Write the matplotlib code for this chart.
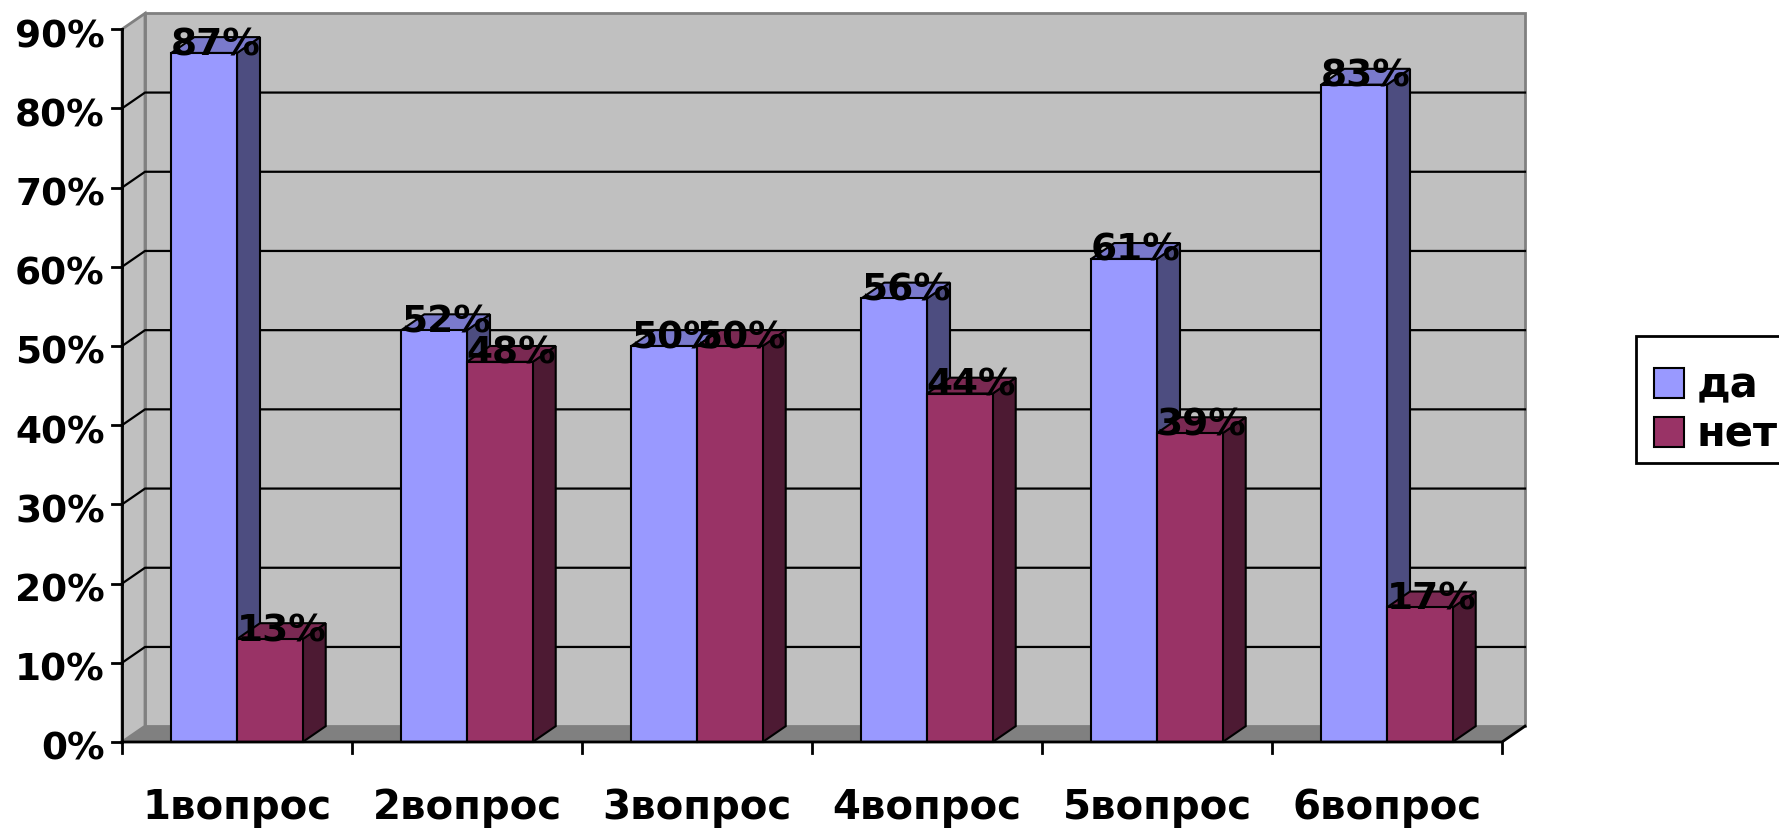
import matplotlib
matplotlib.use('Agg')
import matplotlib.pyplot as plt
from matplotlib.patches import Polygon, Rectangle, Patch

# данные опроса
categories = ['1вопрос', '2вопрос', '3вопрос', '4вопрос', '5вопрос', '6вопрос']
da = [87, 52, 50, 56, 61, 83]
net = [13, 48, 50, 44, 39, 17]
series_names = ['да', 'нет']
y_ticks = [0, 10, 20, 30, 40, 50, 60, 70, 80, 90]

# цвета: передняя грань, верх, бок
colors = {
    'да': ('#9999FF', '#7A7ACC', '#4D4D80'),
    'нет': ('#993366', '#7A2952', '#4D1A33'),
}

DX, DY = 0.1, 2.0      # смещение глубины (псевдо-3D)
W = 1 / 3.5            # ширина столбца, зазор 150%
YMAX = 90
N = len(categories)

fig = plt.figure(figsize=(17.79, 8.30), dpi=100)
ax = fig.add_axes([0, 0, 1, 1])
ax.set_xlim(-122 / 230, (1779 - 122) / 230)
ax.set_ylim(-88 / 7.92, 742 / 7.92)
ax.set_axis_off()

# задняя стенка, левая стенка, пол
ax.add_patch(Rectangle((DX, DY), N, YMAX, facecolor='#C0C0C0',
                       edgecolor='#808080', lw=2, zorder=1))
ax.add_patch(Polygon([(0, 0), (DX, DY), (DX, YMAX + DY), (0, YMAX)],
                     facecolor='#C0C0C0', edgecolor='#808080', lw=2, zorder=1))
ax.add_patch(Polygon([(0, 0), (N, 0), (N + DX, DY), (DX, DY)],
                     facecolor='#808080', edgecolor='none', zorder=2))

# линии сетки
for v in y_ticks[1:-1]:
    ax.plot([0, DX, N + DX], [v, v + DY, v + DY], color='black', lw=1.6, zorder=2)


def bar3d(x0, v, name):
    front, top, side = colors[name]
    x1 = x0 + W
    ax.add_patch(Polygon([(x1, 0), (x1 + DX, DY), (x1 + DX, v + DY), (x1, v)],
                         facecolor=side, edgecolor='black', lw=1.5, zorder=3))
    ax.add_patch(Polygon([(x0, v), (x0 + DX, v + DY), (x1 + DX, v + DY), (x1, v)],
                         facecolor=top, edgecolor='black', lw=1.5, zorder=3))
    ax.add_patch(Rectangle((x0, 0), W, v, facecolor=front,
                           edgecolor='black', lw=1.5, zorder=3))


for i in range(N):
    x_da = i + 0.75 * W
    x_net = x_da + W
    bar3d(x_da, da[i], 'да')
    bar3d(x_net, net[i], 'нет')

# подписи значений
for i in range(N):
    x_da = i + 0.75 * W
    for x0, v in [(x_da, da[i]), (x_da + W, net[i])]:
        ax.text(x0 + W / 2 + DX / 2, v + DY / 2, f'{v}%', ha='center', va='center',
                fontsize=27, fontweight='bold', color='black', zorder=5)

# оси
ax.plot([0, 0], [0, YMAX], color='black', lw=2, zorder=4)
ax.plot([0, N, N + DX], [0, 0, DY], color='black', lw=2, zorder=4)
for v in y_ticks:
    ax.plot([-0.043, 0], [v, v], color='black', lw=2, zorder=4)
    ax.text(-0.075, v - 1.0, f'{v}%', ha='right', va='center',
            fontsize=27, fontweight='bold')
for i in range(N + 1):
    ax.plot([i, i], [0, -1.4], color='black', lw=2, zorder=4)
for i, c in enumerate(categories):
    ax.text(i + 0.5, -9.7, c, ha='center', va='baseline',
            fontsize=29, fontweight='bold')

# легенда: рамка отдельно, она уходит за правый край
fig.patches.append(Rectangle((1636 / 1779, 1 - 463 / 830), 200 / 1779, 127 / 830,
                             transform=fig.transFigure, facecolor='white',
                             edgecolor='black', lw=2, zorder=1))
handles = [Patch(facecolor=colors[n][0], edgecolor='black', lw=1.5) for n in series_names]
leg = fig.legend(handles, series_names, loc='center left',
                 bbox_to_anchor=(1654 / 1779, 1 - 410 / 830),
                 prop={'size': 30, 'weight': 'bold'},
                 handlelength=0.72, handleheight=0.72, handletextpad=0.3,
                 labelspacing=0.17, borderpad=0, borderaxespad=0,
                 frameon=False)

plt.savefig('out.png', dpi=100)
